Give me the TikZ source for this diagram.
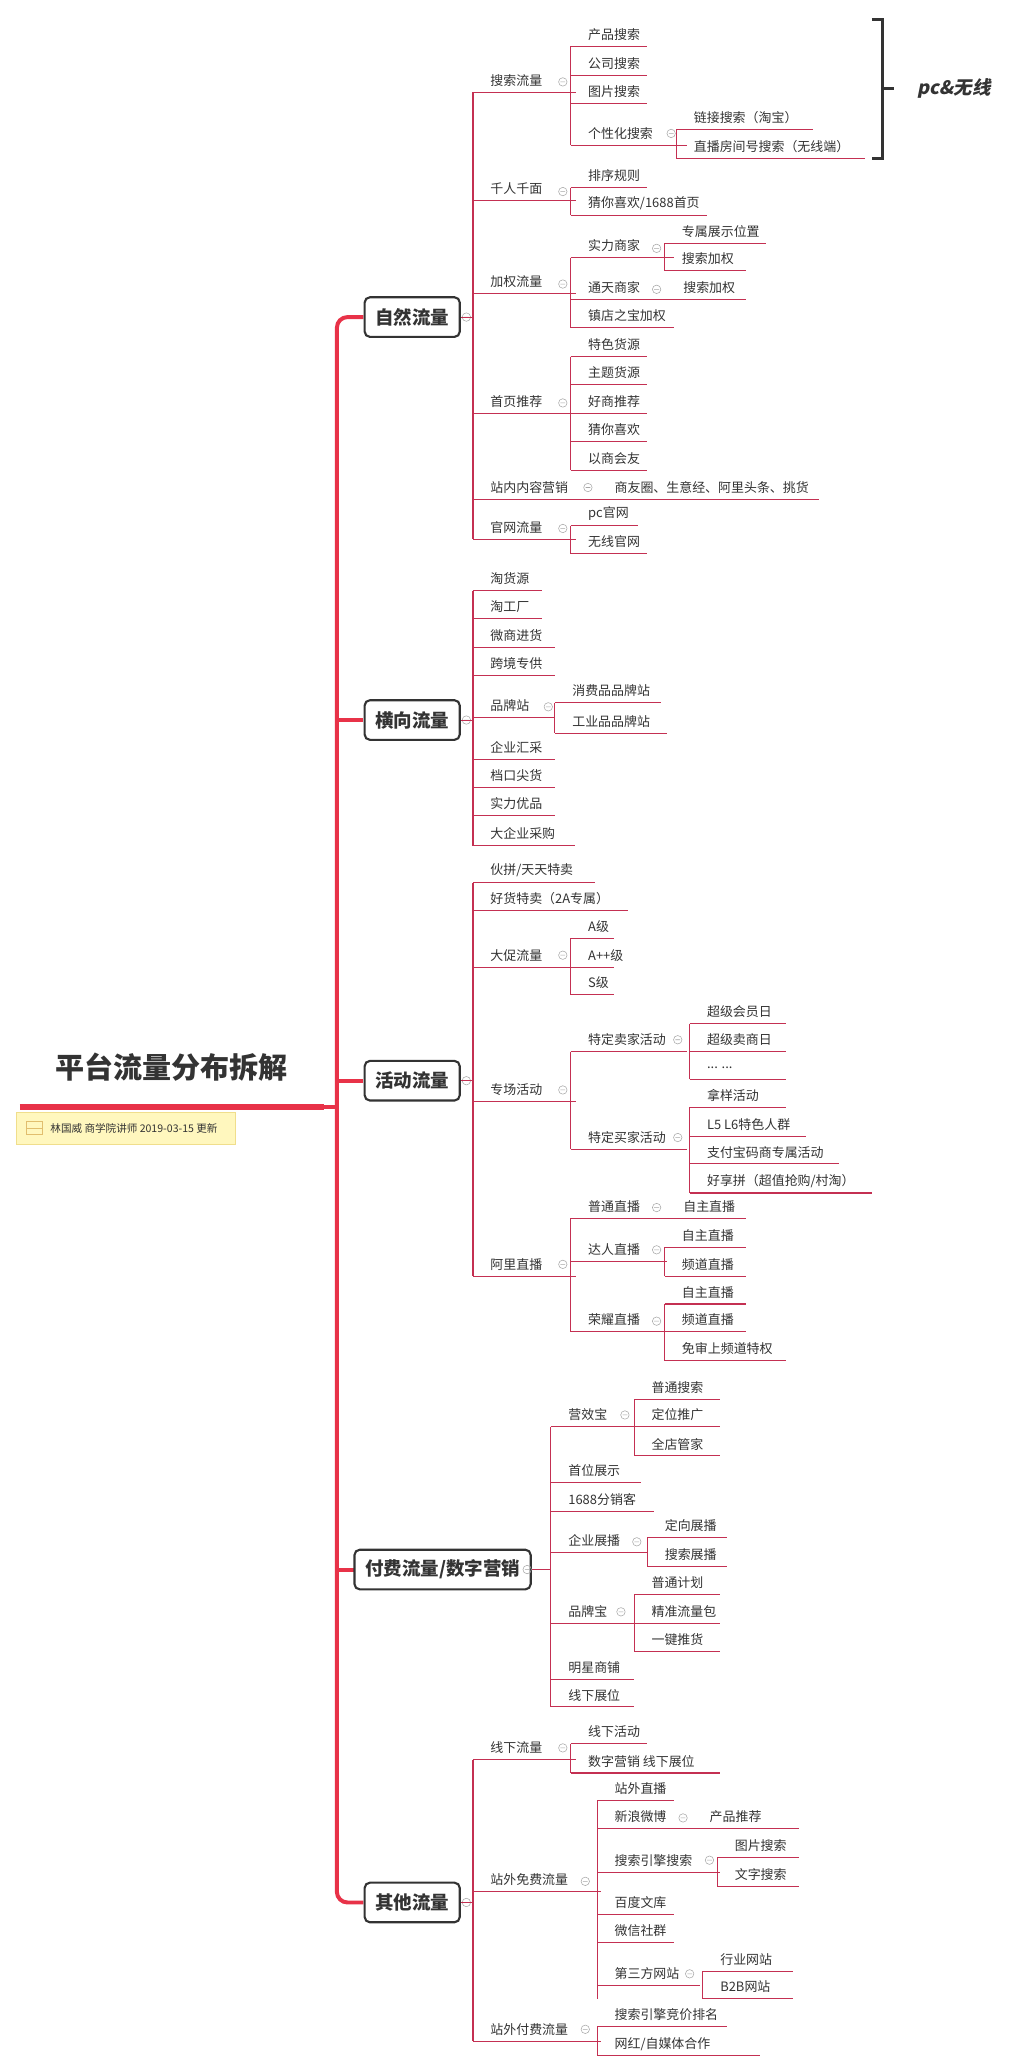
\documentclass[tikz,border=0pt]{standalone}
\usepackage{fontspec}
\setmainfont{Noto Sans CJK SC}
\newfontfamily\slcjk[FakeSlant=0.2]{Noto Sans CJK SC}
\definecolor{br}{RGB}{196,48,82}
\definecolor{tr}{RGB}{232,50,72}
\definecolor{dk}{RGB}{51,51,51}
\newcount\nn
\tikzset{brl/.style={draw=br,line width=0.8pt},
lbl/.style={anchor=west,inner sep=0pt,font=\fontsize{9.8}{12}\selectfont,text=dk},
mainbox/.style={draw=dk,line width=1.6pt,rounded corners=4pt,minimum height=30pt,inner xsep=8pt,font=\fontsize{14}{16}\selectfont\bfseries,text=dk,fill=white},
trunk/.style={draw=tr,line width=3pt}}
\newcommand\lf[4]{\draw[brl] (#1,#3)--(#2,#3);\global\advance\nn1 \node[lbl] (n\the\nn) at (#1+13,#3-9) {#4};}
\newcommand\vl[3]{\draw[brl] (#1,#2)--(#1,#3);}
\newcommand\cm[2]{\draw[gray!70,line width=0.4pt] (#1,#2) circle (3.2) (#1-1.8,#2)--(#1+1.8,#2);}
\newcommand\tx[3]{\global\advance\nn1 \node[lbl] (n\the\nn) at (#1,#2-9) {#3};}
\begin{document}
\begin{tikzpicture}[x=1pt,y=-1pt]
\useasboundingbox[fill=white] (0,0) rectangle (770,1560);
\draw[trunk,rounded corners=8pt] (275,240)--(255,240)--(255,1440)--(275,1440);
\draw[trunk] (255,545)--(275,545) (255,818)--(275,818) (255,1188)--(275,1188);
\draw[tr,line width=5pt] (15,838)--(245,838);
\draw[trunk] (243,838)--(255,838);
\node[font=\fontsize{22}{24}\selectfont\bfseries,text=dk] (title) at (130,808) {平台流量分布拆解};
\draw[fill={rgb,255:red,255;green,247;blue,190},draw={rgb,255:red,240;green,222;blue,140}] (12,842) rectangle (178,866);
\draw[draw={rgb,255:red,225;green,190;blue,110},line width=0.6pt] (20,849) rectangle (32,859) (20,854)--(32,854);
\node[anchor=west,inner sep=0pt,font=\fontsize{8}{9}\selectfont,text=dk] (note) at (38,854) {林国威 商学院讲师 2019-03-15 更新};
\node[mainbox] (m1) at (312,240) {自然流量};
\node[mainbox] (m2) at (312,545) {横向流量};
\node[mainbox] (m3) at (312,818) {活动流量};
\node[mainbox] (m4) at (335,1188) {付费流量/数字营销};
\node[mainbox] (m5) at (312,1440) {其他流量};
\cm{353}{240}\cm{353}{545}\cm{353}{818}\cm{399}{1188}\cm{353}{1440}
\draw[brl] (m1.east)--(358,240); \vl{358}{70}{408}
\lf{358}{436}{70}{搜索流量}\cm{426}{62}
\vl{432}{35}{110}
\lf{432}{490}{35}{产品搜索}\lf{432}{490}{57}{公司搜索}\lf{432}{490}{78}{图片搜索}
\lf{432}{520}{110}{个性化搜索}\cm{508}{101}
\vl{512}{98}{120}\lf{512}{615}{98}{链接搜索（淘宝）}\lf{512}{655}{120}{直播房间号搜索（无线端）}
\draw[dk,line width=2.2pt] (660,15)--(668,15)--(668,120)--(660,120) (668,67)--(677,67);
\node[font=\fontsize{14}{16}\selectfont\bfseries,text=dk] (pc) at (722,67) {\slcjk\bfseries pc\&无线};
\lf{358}{436}{152}{千人千面}\cm{426}{145}
\vl{432}{142}{163}\lf{432}{490}{142}{排序规则}\lf{432}{535}{163}{猜你喜欢/1688首页}
\lf{358}{436}{222}{加权流量}\cm{426}{215}
\vl{432}{195}{248}\lf{432}{510}{195}{实力商家}\cm{497}{188}
\vl{503}{184}{205}\lf{503}{580}{184}{专属展示位置}\lf{503}{565}{205}{搜索加权}
\lf{432}{565}{227}{通天商家}\cm{497}{219}\tx{517}{227}{搜索加权}
\lf{432}{510}{248}{镇店之宝加权}
\lf{358}{436}{313}{首页推荐}\cm{426}{305}
\vl{432}{270}{356}
\lf{432}{490}{270}{特色货源}\lf{432}{490}{291}{主题货源}\lf{432}{490}{313}{好商推荐}\lf{432}{490}{334}{猜你喜欢}\lf{432}{490}{356}{以商会友}
\lf{358}{620}{378}{站内内容营销}\cm{445}{369}\tx{465}{378}{商友圈、生意经、阿里头条、挑货}
\lf{358}{436}{408}{官网流量}\cm{426}{400}
\vl{432}{398}{419}\lf{432}{483}{398}{pc官网}\lf{432}{490}{419}{无线官网}
\draw[brl] (m2.east)--(358,545); \vl{358}{447}{640}
\lf{358}{410}{447}{淘货源}\lf{358}{410}{468}{淘工厂}\lf{358}{420}{490}{微商进货}\lf{358}{420}{511}{跨境专供}
\lf{358}{420}{543}{品牌站}\cm{415}{535}
\vl{420}{532}{555}\lf{420}{500}{532}{消费品品牌站}\lf{420}{505}{555}{工业品品牌站}
\lf{358}{420}{575}{企业汇采}\lf{358}{420}{596}{档口尖货}\lf{358}{420}{617}{实力优品}\lf{358}{435}{640}{大企业采购}
\draw[brl] (m3.east)--(358,818); \vl{358}{668}{966}
\lf{358}{450}{668}{伙拼/天天特卖}\lf{358}{475}{689}{好货特卖（2A专属）}
\lf{358}{436}{732}{大促流量}\cm{426}{723}
\vl{432}{710}{753}\lf{432}{465}{710}{A级}\lf{432}{465}{732}{A++级}\lf{432}{465}{753}{S级}
\lf{358}{436}{834}{专场活动}\cm{426}{825}
\vl{432}{796}{870}\lf{432}{520}{796}{特定卖家活动}\cm{513}{787}
\vl{522}{775}{817}\lf{522}{595}{775}{超级会员日}\lf{522}{595}{796}{超级卖商日}\lf{522}{595}{817}{... ...}
\lf{432}{520}{870}{特定买家活动}\cm{513}{861}
\vl{522}{838}{903}\lf{522}{595}{838}{拿样活动}\lf{522}{610}{860}{L5 L6特色人群}\lf{522}{635}{881}{支付宝码商专属活动}\lf{522}{660}{903}{好享拼（超值抢购/村淘）}
\lf{358}{436}{966}{阿里直播}\cm{426}{957}
\vl{432}{922}{1008}
\lf{432}{565}{922}{普通直播}\cm{497}{914}\tx{517}{922}{自主直播}
\lf{432}{505}{955}{达人直播}\cm{497}{946}
\vl{503}{944}{966}\lf{503}{565}{944}{自主直播}\lf{503}{565}{966}{频道直播}
\lf{432}{505}{1008}{荣耀直播}\cm{497}{1000}
\vl{503}{987}{1030}\lf{503}{565}{987}{自主直播}\lf{503}{565}{1008}{频道直播}\lf{503}{595}{1030}{免审上频道特权}
\draw[brl] (m4.east)--(417,1188); \vl{417}{1080}{1292}
\lf{417}{485}{1080}{营效宝}\cm{473}{1071}
\vl{480}{1059}{1102}\lf{480}{545}{1059}{普通搜索}\lf{480}{545}{1080}{定位推广}\lf{480}{545}{1102}{全店管家}
\lf{417}{485}{1122}{首位展示}\lf{417}{495}{1144}{1688分销客}
\lf{417}{490}{1175}{企业展播}\cm{482}{1167}
\vl{490}{1164}{1186}\lf{490}{550}{1164}{定向展播}\lf{490}{550}{1186}{搜索展播}
\lf{417}{480}{1229}{品牌宝}\cm{470}{1220}
\vl{480}{1207}{1250}\lf{480}{545}{1207}{普通计划}\lf{480}{545}{1229}{精准流量包}\lf{480}{545}{1250}{一键推货}
\lf{417}{480}{1271}{明星商铺}\lf{417}{480}{1292}{线下展位}
\draw[brl] (m5.east)--(358,1440); \vl{358}{1332}{1545}
\lf{358}{436}{1332}{线下流量}\cm{426}{1323}
\vl{432}{1320}{1342}\lf{432}{490}{1320}{线下活动}\lf{432}{545}{1342}{数字营销 线下展位}
\lf{358}{455}{1432}{站外免费流量}\cm{443}{1424}
\vl{452}{1363}{1513}
\lf{452}{510}{1363}{站外直播}
\lf{452}{605}{1384}{新浪微博}\cm{517}{1376}\tx{537}{1384}{产品推荐}
\lf{452}{545}{1417}{搜索引擎搜索}\cm{537}{1408}
\vl{543}{1406}{1428}\lf{543}{605}{1406}{图片搜索}\lf{543}{605}{1428}{文字搜索}
\lf{452}{510}{1449}{百度文库}\lf{452}{510}{1470}{微信社群}
\lf{452}{530}{1503}{第三方网站}\cm{522}{1494}
\vl{532}{1492}{1513}\lf{532}{600}{1492}{行业网站}\lf{532}{600}{1513}{B2B网站}
\lf{358}{455}{1545}{站外付费流量}\cm{443}{1536}
\vl{452}{1534}{1556}\lf{452}{550}{1534}{搜索引擎竞价排名}\lf{452}{575}{1556}{网红/自媒体合作}
\end{tikzpicture}
\end{document}
